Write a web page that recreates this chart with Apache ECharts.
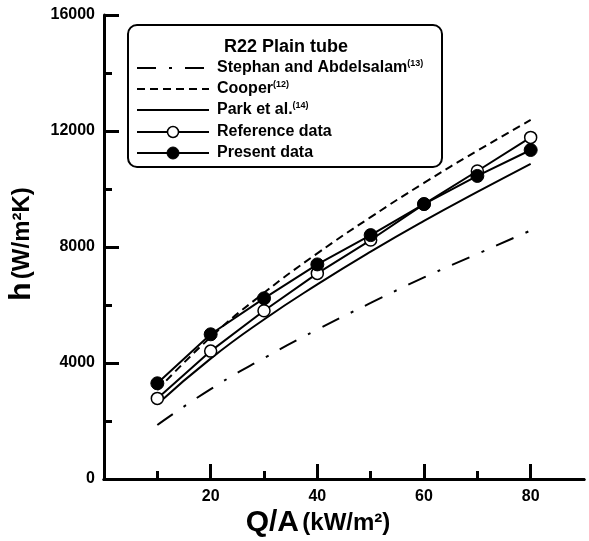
<!DOCTYPE html>
<html>
<head>
<meta charset="utf-8">
<script src="https://cdn.jsdelivr.net/npm/echarts@6/dist/echarts.min.js"></script>
<style>
  html, body { margin: 0; padding: 0; background: #fff; }
  #main { width: 589px; height: 541px; }
</style>
</head>
<body>
<div id="main"></div>
<script>
// heat flux Q/A (kW/m2)
const qValues = [10, 20, 30, 40, 50, 60, 70, 80];
// h (W/m2K)
const stephan = [1860, 3100, 4170, 5150, 6070, 6950, 7760, 8570];
const cooper = [3070, 4890, 6420, 7780, 9030, 10210, 11320, 12380];
const park = [2580, 4150, 5500, 6710, 7840, 8900, 9900, 10870];
const reference = [2780, 4410, 5800, 7090, 8240, 9480, 10620, 11780];
const present = [3300, 4990, 6230, 7400, 8410, 9480, 10450, 11345];

// tick positions
const xMajor = [20, 40, 60, 80];
const xMinor = [10, 30, 50, 70];
const yMajor = [0, 4000, 8000, 12000, 16000];
const yMinor = [2000, 6000, 10000, 14000];

const FONT = 'Liberation Sans, Arial, sans-serif';

function pairs(ys) {
    return qValues.map(function (q, i) { return [q, ys[i]]; });
}

let myChart = echarts.init(document.getElementById('main'));

// legend rows: y position
const rowY = [68, 89, 110, 132, 153];
const lx1 = 137, lx2 = 209, ltext = 217;

function legendText(y, main, sup) {
    let txt = '{a|' + main + '}' + (sup ? '{s|' + sup + '}' : '');
    return {
        type: 'text', x: ltext, y: y,
        style: {
            text: txt,
            verticalAlign: 'middle',
            rich: {
                a: { fontFamily: FONT, fontWeight: 'bold', fontSize: 16, lineHeight: 18, fill: '#000' },
                s: { fontFamily: FONT, fontWeight: 'bold', fontSize: 9, verticalAlign: 'top', lineHeight: 10, fill: '#000' }
            }
        }
    };
}

function legendLine(y, dash) {
    return {
        type: 'line',
        shape: { x1: lx1, y1: y, x2: lx2, y2: y },
        style: { stroke: '#000', lineWidth: 2, lineDash: dash || null }
    };
}

let graphics = [
    {
        type: 'rect',
        shape: { x: 128, y: 25, width: 314, height: 142, r: 9 },
        style: { fill: '#fff', stroke: '#000', lineWidth: 2 }
    },
    {
        type: 'text', x: 286, y: 47,
        style: { text: 'R22 Plain tube', font: 'bold 18px ' + FONT, fill: '#000', align: 'center', verticalAlign: 'middle' }
    },
    legendLine(rowY[0], [19, 13, 3, 13]),
    legendText(rowY[0], 'Stephan and Abdelsalam', '(13)'),
    legendLine(rowY[1], [8, 5]),
    legendText(rowY[1], 'Cooper', '(12)'),
    legendLine(rowY[2]),
    legendText(rowY[2], 'Park et al.', '(14)'),
    legendLine(rowY[3]),
    { type: 'circle', shape: { cx: 173, cy: rowY[3], r: 5.5 }, style: { fill: '#fff', stroke: '#000', lineWidth: 1.5 } },
    legendText(rowY[3], 'Reference data'),
    legendLine(rowY[4]),
    { type: 'circle', shape: { cx: 173, cy: rowY[4], r: 6 }, style: { fill: '#000', stroke: '#000', lineWidth: 1 } },
    legendText(rowY[4], 'Present data'),
    // axis names
    {
        type: 'text', x: 318, y: 523,
        style: {
            text: '{b|Q/A} {m|(kW/m²)}',
            align: 'center', verticalAlign: 'middle',
            rich: {
                b: { fontFamily: FONT, fontWeight: 'bold', fontSize: 30, fill: '#000' },
                m: { fontFamily: FONT, fontWeight: 'bold', fontSize: 24, fill: '#000' }
            }
        }
    },
    {
        type: 'text', x: 22, y: 244, rotation: Math.PI / 2,
        style: {
            text: '{b|h} {m|(W/m²K)}',
            align: 'center', verticalAlign: 'middle',
            rich: {
                b: { fontFamily: FONT, fontWeight: 'bold', fontSize: 30, fill: '#000' },
                m: { fontFamily: FONT, fontWeight: 'bold', fontSize: 24, fill: '#000' }
            }
        }
    }
];
graphics.forEach(function (g) { g.z = 11; });

const labelStyle = { fontFamily: FONT, fontWeight: 'bold', fontSize: 16, color: '#000' };
const tickLine = { color: '#000', width: 3 };

// overlay axis that only draws a set of ticks
function tickAxis(min, max, interval, pos, values, len) {
    return {
        type: 'value', min: min, max: max, interval: interval, position: pos,
        axisLine: { show: false },
        axisTick: { show: true, inside: true, length: len, customValues: values, lineStyle: tickLine },
        axisLabel: { show: false },
        splitLine: { show: false }
    };
}

let option = {
    animation: false,
    backgroundColor: '#fff',
    grid: { left: 104, right: 5, top: 15, bottom: 62 },
    xAxis: [
        {
            type: 'value', min: 0, max: 90, interval: 10,
            axisLine: { show: true, lineStyle: { color: '#000', width: 3 } },
            axisTick: { show: true, inside: true, length: 15, customValues: xMajor, lineStyle: tickLine },
            axisLabel: { customValues: xMajor, margin: 10, ...labelStyle },
            splitLine: { show: false }
        },
        tickAxis(0, 90, 10, 'bottom', xMinor, 8),
        {
            type: 'value', min: 0, max: 90, position: 'top',
            axisLine: { show: true, lineStyle: { color: '#000', width: 3 } },
            axisTick: { show: false },
            axisLabel: { show: false },
            splitLine: { show: false }
        }
    ],
    yAxis: [
        {
            type: 'value', min: 0, max: 16000, interval: 4000,
            axisLine: { show: true, lineStyle: { color: '#000', width: 3 } },
            axisTick: { show: false },
            axisLabel: {
                margin: 9, ...labelStyle,
                formatter: function (v) { return String(v); }
            },
            splitLine: { show: false }
        },
        tickAxis(0, 16000, 4000, 'left', yMajor, 15),
        tickAxis(0, 16000, 4000, 'left', yMinor, 8)
    ],
    series: [
        {
            name: 'Stephan and Abdelsalam', type: 'line', data: pairs(stephan),
            smooth: true, showSymbol: false, symbol: 'none',
            lineStyle: { color: '#000', width: 2, type: [19, 13, 3, 13] }
        },
        {
            name: 'Cooper', type: 'line', data: pairs(cooper),
            smooth: true, showSymbol: false, symbol: 'none',
            lineStyle: { color: '#000', width: 2, type: [8, 5] }
        },
        {
            name: 'Park et al.', type: 'line', data: pairs(park),
            smooth: true, showSymbol: false, symbol: 'none',
            lineStyle: { color: '#000', width: 2 }
        },
        {
            name: 'Reference data', type: 'line', data: pairs(reference),
            symbol: 'circle', symbolSize: 12,
            lineStyle: { color: '#000', width: 2 },
            itemStyle: { color: '#fff', borderColor: '#000', borderWidth: 1.5 },
            z: 3
        },
        {
            name: 'Present data', type: 'line', data: pairs(present),
            symbol: 'circle', symbolSize: 13,
            lineStyle: { color: '#000', width: 2 },
            itemStyle: { color: '#000', borderColor: '#000', borderWidth: 1 },
            z: 4
        }
    ],
    graphic: graphics
};
myChart.setOption(option);
</script>
</body>
</html>
